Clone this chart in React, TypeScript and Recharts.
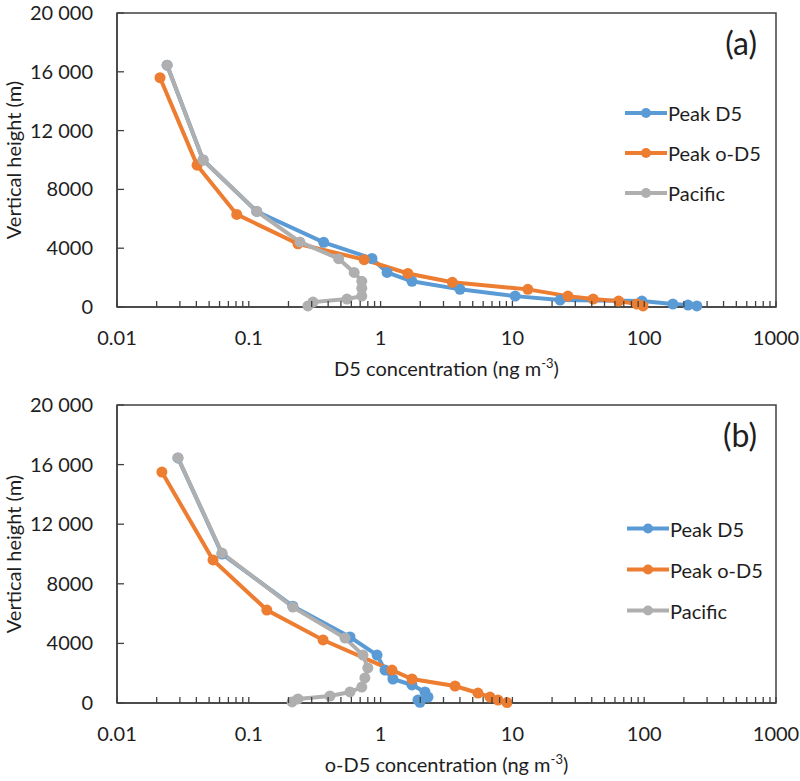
import { LineChart, Line, XAxis, YAxis, Legend, ReferenceArea, Label } from "recharts";

const FONT = "Lato, 'Open Sans', sans-serif";
const AXIS = "#404040";
const TEXT = "#1e1e1e";

const SERIES_NAMES = ["Peak D5", "Peak o-D5", "Pacific"];
const SERIES_COLORS = ["#5B9BD5", "#ED7D31", "#AFAFAF"];

const MAJOR_TICKS = [0.01, 0.1, 1, 10, 100, 1000];
const MINOR_STEPS = [1, 2, 3, 4, 5, 6, 7, 8, 9];
const X_TICKS = MAJOR_TICKS.slice(0, -1)
  .flatMap((d) => MINOR_STEPS.map((m) => (m === 1 ? d : d * m)))
  .concat([1000]);
const HEIGHT_TICKS = [0, 4000, 8000, 12000, 16000, 20000];

// panel (a): D5 concentration (ng m-3) vs height (m)
const A_D5_HEIGHT = [16450, 10000, 6500, 4400, 3300, 2350, 1750, 1200, 740, 470, 400, 200, 130, 70];
const A_D5_CONC = [0.024, 0.045, 0.115, 0.37, 0.86, 1.12, 1.73, 4.0, 10.5, 23, 96, 165, 215, 251];
const A_OD5_HEIGHT = [15600, 9650, 6300, 4300, 3220, 2280, 1680, 1200, 740, 540, 400, 200, 70];
const A_OD5_CONC = [0.0212, 0.0405, 0.081, 0.236, 0.75, 1.61, 3.5, 13.1, 26.4, 41, 64, 88, 98];
const A_PAC_HEIGHT = [16450, 10000, 6500, 4430, 3290, 2350, 1750, 1275, 740, 540, 335, 70];
const A_PAC_CONC = [0.024, 0.045, 0.115, 0.244, 0.48, 0.63, 0.72, 0.72, 0.72, 0.556, 0.307, 0.281];

// panel (b): o-D5 concentration (ng m-3) vs height (m)
const B_D5_HEIGHT = [16450, 10000, 6500, 4430, 3220, 2210, 1610, 1210, 740, 400, 200, 50];
const B_D5_CONC = [0.029, 0.0626, 0.216, 0.586, 0.94, 1.08, 1.24, 1.73, 2.17, 2.29, 1.92, 1.99];
const B_OD5_HEIGHT = [15500, 9600, 6240, 4230, 2210, 1610, 1140, 670, 400, 200, 30];
const B_OD5_CONC = [0.0219, 0.0535, 0.137, 0.366, 1.22, 1.73, 3.67, 5.48, 6.76, 7.78, 9.1];
const B_PAC_HEIGHT = [16450, 10065, 6440, 4360, 3220, 2350, 1680, 1070, 740, 470, 270, 70];
const B_PAC_CONC = [0.029, 0.0626, 0.216, 0.537, 0.735, 0.8, 0.76, 0.72, 0.586, 0.413, 0.236, 0.213];

const zip = (conc: number[], h: number[]) => conc.map((c, i) => ({ c, h: h[i] }));

const fmtHeight = (v: number) => (v >= 10000 ? `${Math.floor(v / 1000)} 000` : String(v));

function XTick({ x, y, payload }: any) {
  const major = MAJOR_TICKS.includes(payload.value);
  return (
    <g>
      <line x1={x} x2={x} y1={y} y2={y - 6} stroke={AXIS} strokeWidth={1.3} />
      {major && (
        <text x={x} y={y + 38} textAnchor="middle" fontSize={20} fontFamily={FONT} fill={TEXT}>
          {String(payload.value)}
        </text>
      )}
    </g>
  );
}

function YTick({ x, y, payload }: any) {
  return (
    <g>
      <line x1={x} x2={x + 7} y1={y} y2={y} stroke={AXIS} strokeWidth={1.3} />
      <text x={x - 24} y={y + 7} textAnchor="end" fontSize={20} fontFamily={FONT} fill={TEXT}>
        {fmtHeight(payload.value)}
      </text>
    </g>
  );
}

function LegendBox({ rowH, lineX }: { rowH: number; lineX: number }) {
  return (
    <div style={{ fontFamily: FONT, fontSize: 20, color: TEXT }}>
      {SERIES_NAMES.map((name, i) => (
        <div key={name} style={{ display: "flex", alignItems: "center", height: rowH }}>
          <svg width={48} height={rowH} style={{ display: "block" }}>
            <line x1={lineX} x2={lineX + 42} y1={rowH / 2} y2={rowH / 2} stroke={SERIES_COLORS[i]} strokeWidth={4} />
            <circle cx={lineX + 21} cy={rowH / 2} r={5} fill={SERIES_COLORS[i]} />
          </svg>
          <span style={{ lineHeight: 1 }}>{name}</span>
        </div>
      ))}
    </div>
  );
}

function Panel({
  sets,
  tag,
  xName,
  height,
  top,
  bottom,
  legendTop,
  legendLeft,
  rowH,
}: {
  sets: { c: number; h: number }[][];
  tag: string;
  xName: string;
  height: number;
  top: number;
  bottom: number;
  legendTop: number;
  legendLeft: number;
  rowH: number;
}) {
  return (
    <LineChart width={800} height={height} margin={{ top, right: 24, bottom, left: 0 }}>
      <XAxis
        type="number"
        dataKey="c"
        scale="log"
        domain={[0.01, 1000]}
        ticks={X_TICKS}
        interval={0}
        allowDataOverflow
        height={50}
        tickSize={0}
        tickMargin={0}
        tickLine={false}
        tick={<XTick />}
        axisLine={{ stroke: AXIS, strokeWidth: 1.5 }}
      >
        <Label
          content={(p: any) => {
            const vb = p.viewBox || {};
            return (
              <text
                x={vb.x + vb.width / 2}
                y={vb.y + 69}
                textAnchor="middle"
                fontSize={20}
                fontFamily={FONT}
                fill={TEXT}
              >
                {xName} concentration (ng m
                <tspan dy={-8} fontSize={13}>
                  -3
                </tspan>
                <tspan dy={8}>)</tspan>
              </text>
            );
          }}
        />
      </XAxis>
      <YAxis
        type="number"
        dataKey="h"
        domain={[0, 20000]}
        ticks={HEIGHT_TICKS}
        interval={0}
        width={117}
        tickSize={0}
        tickMargin={0}
        tickLine={false}
        tick={<YTick />}
        axisLine={{ stroke: AXIS, strokeWidth: 1.5 }}
      >
        <Label
          content={(p: any) => {
            const vb = p.viewBox || {};
            const cy = vb.y + vb.height / 2;
            return (
              <text
                x={13}
                y={cy}
                transform={`rotate(-90 13 ${cy})`}
                textAnchor="middle"
                dominantBaseline="central"
                fontSize={20}
                fontFamily={FONT}
                fill={TEXT}
              >
                Vertical height (m)
              </text>
            );
          }}
        />
      </YAxis>
      <ReferenceArea
        x1={0.01}
        x2={1000}
        y1={0}
        y2={20000}
        fill="none"
        fillOpacity={0}
        stroke={AXIS}
        strokeWidth={1.5}
        label={{ value: tag, position: "insideTopRight", offset: 19, fontSize: 32, fill: TEXT, fontFamily: FONT }}
      />
      {sets.map((d, i) => (
        <Line
          key={SERIES_NAMES[i]}
          data={d}
          dataKey="h"
          name={SERIES_NAMES[i]}
          type="linear"
          stroke={SERIES_COLORS[i]}
          strokeWidth={4}
          dot={{ r: 5.5, fill: SERIES_COLORS[i], stroke: SERIES_COLORS[i], strokeWidth: 0 }}
          isAnimationActive={false}
        />
      ))}
      <Legend
        layout="vertical"
        align="center"
        verticalAlign="middle"
        wrapperStyle={{ position: "absolute", top: legendTop, left: legendLeft, width: 170, bottom: "auto", right: "auto" }}
        content={() => <LegendBox rowH={rowH} lineX={5} />}
      />
    </LineChart>
  );
}

export default function App() {
  return (
    <div style={{ position: "absolute", left: 0, top: 0, width: 800, height: 781, background: "#fff" }}>
      <div style={{ position: "absolute", left: 0, top: 0 }}>
        <Panel
          sets={[zip(A_D5_CONC, A_D5_HEIGHT), zip(A_OD5_CONC, A_OD5_HEIGHT), zip(A_PAC_CONC, A_PAC_HEIGHT)]}
          tag="(a)"
          xName="D5"
          height={390}
          top={13}
          bottom={33}
          legendTop={93}
          legendLeft={620}
          rowH={40}
        />
      </div>
      <div style={{ position: "absolute", left: 0, top: 380 }}>
        <Panel
          sets={[zip(B_D5_CONC, B_D5_HEIGHT), zip(B_OD5_CONC, B_OD5_HEIGHT), zip(B_PAC_CONC, B_PAC_HEIGHT)]}
          tag="(b)"
          xName="o-D5"
          height={401}
          top={25}
          bottom={28}
          legendTop={128}
          legendLeft={622}
          rowH={41}
        />
      </div>
    </div>
  );
}
